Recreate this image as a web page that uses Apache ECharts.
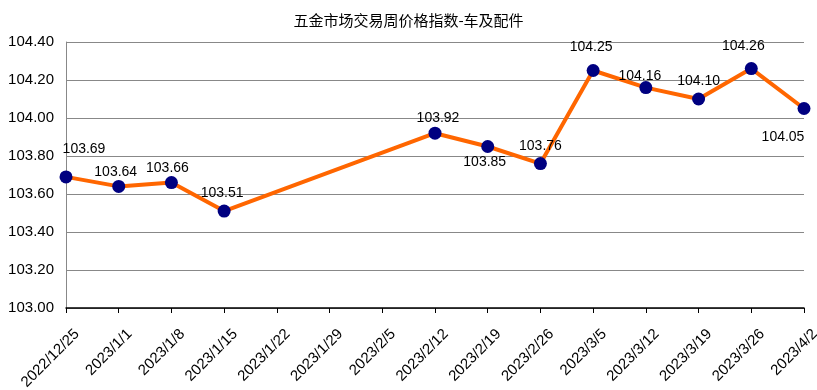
<!DOCTYPE html>
<html>
<head>
<meta charset="utf-8">
<script src="https://cdn.jsdelivr.net/npm/echarts@6/dist/echarts.min.js"></script>
<style>html,body{margin:0;padding:0;background:#fff}#c{width:817px;height:390px}</style>
</head>
<body>
<div id="c"></div>
<script>
const titleText = '五金市场交易周价格指数-车及配件';
const categories = ['2022/12/25','2023/1/1','2023/1/8','2023/1/15','2023/1/22','2023/1/29','2023/2/5','2023/2/12','2023/2/19','2023/2/26','2023/3/5','2023/3/12','2023/3/19','2023/3/26','2023/4/2'];
const values = [103.69, 103.64, 103.66, 103.51, null, null, null, 103.92, 103.85, 103.76, 104.25, 104.16, 104.10, 104.26, 104.05];
const yMin = 103.0, yMax = 104.4, yStep = 0.2;
// label offsets relative to point centre (layout only)
const labelOffsets = [[18,-28],[-3,-14],[-4,-14],[-2,-18],null,null,null,[3,-15],[-3,16],[0,-17],[-2,-23],[-6,-11],[0,-18],[-8,-22],[-21,29]];

const data = values.map((v, i) => {
  if (v === null) return null;
  const o = labelOffsets[i] || [0,-16];
  return { value: v, label: { offset: o } };
});

const chart = echarts.init(document.getElementById('c'), null, {renderer: 'canvas'});
chart.setOption({
  backgroundColor: '#ffffff',
  animation: false,
  title: {
    text: titleText, left: 'center', top: 8,
    textStyle: { fontFamily: 'Noto Sans CJK SC', fontSize: 15, fontWeight: 'normal', color: '#000' }
  },
  grid: { left: 66, right: 13, top: 42, bottom: 82, containLabel: false, outerBoundsMode: 'none' },
  xAxis: {
    type: 'category', data: categories, boundaryGap: false,
    axisLine: { lineStyle: { color: '#000', width: 1.5 } },
    axisTick: { show: true, length: 5, lineStyle: { color: '#000' }, alignWithLabel: true },
    axisLabel: { rotate: 45, interval: 0, fontFamily: 'Liberation Sans', fontSize: 15, color: '#000', margin: 0,
      align: 'right', verticalAlign: 'top', padding: [17, 9, 0, 0] },
    splitLine: { show: false }
  },
  yAxis: {
    type: 'value', min: yMin, max: yMax, interval: yStep,
    axisLine: { show: true, lineStyle: { color: '#888' } },
    axisTick: { show: false },
    axisLabel: { formatter: v => v.toFixed(2), fontFamily: 'Liberation Sans', fontSize: 15, color: '#000', margin: 12 },
    splitLine: { lineStyle: { color: '#888', width: 1 } }
  },
  series: [{
    type: 'line', data: data, connectNulls: true,
    symbol: 'circle', symbolSize: 13,
    lineStyle: { color: '#FF6600', width: 4 },
    itemStyle: { color: '#000080' },
    label: {
      show: true, position: 'inside',
      formatter: p => Number(p.value).toFixed(2),
      fontFamily: 'Liberation Sans', fontSize: 14, color: '#000'
    }
  }]
});
</script>
</body>
</html>
